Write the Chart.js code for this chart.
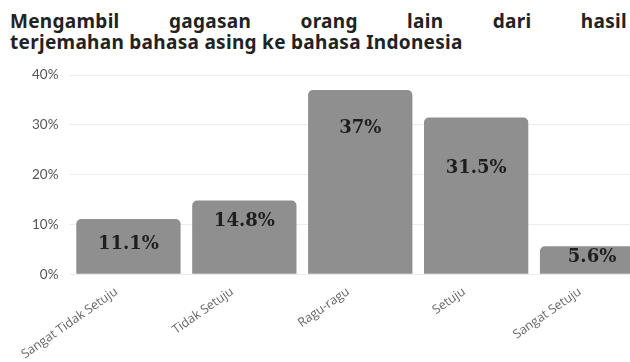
<!DOCTYPE html>
<html>
<head>
<meta charset="utf-8">
<script src="https://cdn.jsdelivr.net/npm/chart.js@4"></script>
<style>
  html, body { margin: 0; padding: 0; background: #fff; overflow: hidden; width: 630px; height: 362px; }
  .title { position: absolute; left: 10px; width: 617px; font-family: "Noto Sans", sans-serif; font-weight: bold; font-size: 19px; letter-spacing: 0.3px; color: #222; line-height: 20px; }
  #t1 { top: 11px; text-align: justify; text-align-last: justify; }
  #t2 { top: 32px; text-align: left; }
  #wrap { position: absolute; left: 0; top: 55px; }
</style>
</head>
<body>
<div class="title" id="t1">Mengambil gagasan orang lain dari hasil</div>
<div class="title" id="t2">terjemahan bahasa asing ke bahasa Indonesia</div>
<div id="wrap"><canvas id="chart" width="650" height="309"></canvas></div>
<script>
var categories = ["Sangat Tidak Setuju", "Tidak Setuju", "Ragu-ragu", "Setuju", "Sangat Setuju"];
var percentages = [11.1, 14.8, 37, 31.5, 5.6];
var valueLabels = ["11.1%", "14.8%", "37%", "31.5%", "5.6%"];
var yTicks = [0, 10, 20, 30, 40];

// how far below the bar top each label sits (style only)
var labelDrop = [25, 21, 38, 51, 11];

var barLabels = {
    id: 'barLabels',
    afterDatasetsDraw: function(chart) {
        var ctx = chart.ctx;
        var meta = chart.getDatasetMeta(0);
        ctx.save();
        ctx.font = 'bold 18px "DejaVu Serif"';
        ctx.fillStyle = '#1e1e1e';
        ctx.textAlign = 'center';
        ctx.textBaseline = 'middle';
        meta.data.forEach(function(bar, i) {
            ctx.fillText(valueLabels[i], bar.x, bar.y + labelDrop[i]);
        });
        ctx.restore();
    }
};

new Chart(document.getElementById('chart'), {
    type: 'bar',
    data: {
        labels: categories,
        datasets: [{
            data: percentages,
            backgroundColor: '#8f8f8f',
            borderRadius: { topLeft: 5, topRight: 5 },
            borderSkipped: 'bottom',
            barPercentage: 0.9,
            categoryPercentage: 1.0
        }]
    },
    options: {
        responsive: false,
        animation: false,
        layout: { padding: { top: 15, left: 20, right: 0, bottom: 0 } },
        plugins: { legend: { display: false }, tooltip: { enabled: false } },
        scales: {
            x: {
                grid: { display: false },
                border: { display: false },
                ticks: {
                    color: '#666',
                    font: { family: '"Open Sans"', size: 12.5 },
                    minRotation: 35,
                    maxRotation: 35,
                    labelOffset: -12,
                    padding: 2
                }
            },
            y: {
                min: 0,
                max: 40,
                afterBuildTicks: function(axis) {
                    axis.ticks = yTicks.map(function(v) { return { value: v }; });
                },
                grid: { color: '#ececec', drawTicks: false },
                border: { display: false },
                ticks: {
                    color: '#555',
                    font: { family: 'Lato', size: 13.5 },
                    padding: 12,
                    callback: function(v) { return v + '%'; }
                }
            }
        }
    },
    plugins: [barLabels]
});
</script>
</body>
</html>
